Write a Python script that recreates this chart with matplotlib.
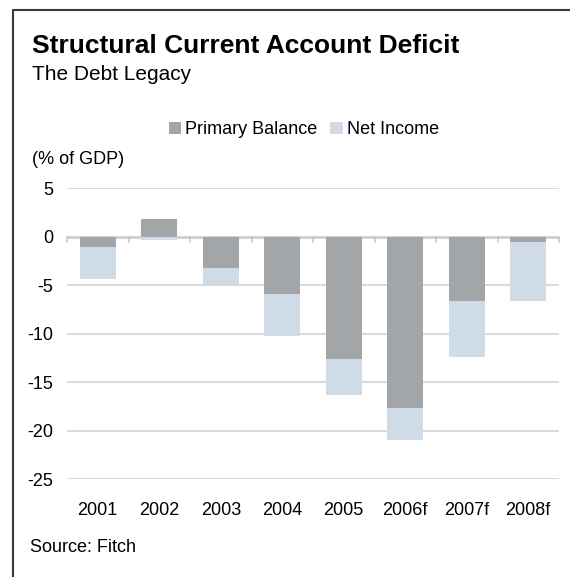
import numpy as np
import matplotlib
matplotlib.use("Agg")
import matplotlib.pyplot as plt
from matplotlib.lines import Line2D
from matplotlib.patches import Patch

plt.rcParams['font.family'] = ['Liberation Sans', 'DejaVu Sans']

years = ["2001", "2002", "2003", "2004", "2005", "2006f", "2007f", "2008f"]
primary_balance = [-1.1, 1.8, -3.2, -5.9, -12.6, -17.7, -6.6, -0.5]
net_income = [-3.3, -0.3, -1.8, -4.3, -3.7, -3.2, -5.8, -6.1]
y_ticks = [5, 0, -5, -10, -15, -20, -25]

c_primary = "#a3a6a9"
c_income = "#cfdbe6"
grid_c = "#d0d0d0"

W, H = 570, 577
fig = plt.figure(figsize=(W / 100, H / 100), dpi=100)

def fx(px):
    return px / W

def fy(py):
    return 1 - py / H

ax = fig.add_axes([fx(67), fy(479.3), fx(559) - fx(67), fy(188.3) - fy(479.3)])

x = np.arange(len(years))
pb = np.array(primary_balance)
ni = np.array(net_income)

# stack each series on the side of zero it extends to
pos_base = np.zeros(len(years))
neg_base = np.zeros(len(years))
for vals, col in [(pb, c_primary), (ni, c_income)]:
    base = np.where(vals >= 0, pos_base, neg_base)
    ax.bar(x, vals, bottom=base, width=0.585, color=col, linewidth=0, zorder=3)
    pos_base = pos_base + np.where(vals >= 0, vals, 0)
    neg_base = neg_base + np.where(vals < 0, vals, 0)

ax.set_xlim(-0.5, len(years) - 0.5)
ax.set_ylim(-25, 5)

for t in y_ticks:
    if t == 0:
        continue
    ax.axhline(t, color=grid_c, lw=1.1, zorder=1)
ax.axhline(0, color="#cfcfcf", lw=2.0, zorder=2)

# small category separators hanging below the zero line
for b in np.arange(len(years) + 1) - 0.5:
    ax.plot([b, b], [0, -0.55], color="#c8c8c8", lw=1.2, zorder=2, clip_on=False)

ax.set_yticks(y_ticks)
ax.set_yticklabels([str(t) for t in y_ticks], fontsize=13)
ax.set_xticks(x)
ax.set_xticklabels(years, fontsize=13)
ax.tick_params(axis='y', length=0, pad=10)
ax.tick_params(axis='x', length=0, pad=16)
for s in ax.spines.values():
    s.set_visible(False)

fig.text(fx(32), fy(53), "Structural Current Account Deficit", fontsize=19,
         fontweight='bold', ha='left', va='baseline')
fig.text(fx(32), fy(80), "The Debt Legacy", fontsize=15, ha='left', va='baseline')
fig.text(fx(32), fy(159), "(% of GDP)", fontsize=13, ha='left', va='center')
fig.text(fx(30), fy(547), "Source: Fitch", fontsize=13, ha='left', va='center')

handles = [Patch(facecolor=c_primary, edgecolor='none', label="Primary Balance"),
           Patch(facecolor=c_income, edgecolor='none', label="Net Income")]
fig.legend(handles=handles, loc='center', bbox_to_anchor=(fx(304), fy(130)),
           ncol=2, frameon=False, fontsize=13, handlelength=0.68,
           handleheight=0.65, handletextpad=0.25, columnspacing=0.7)

# frame on the left and top edges
fig.add_artist(Line2D([fx(12.5), fx(12.5), fx(570)], [fy(577), fy(9.5), fy(9.5)],
                      color="#3a3a3a", lw=1.5, transform=fig.transFigure))

fig.savefig("out.png", dpi=100)
